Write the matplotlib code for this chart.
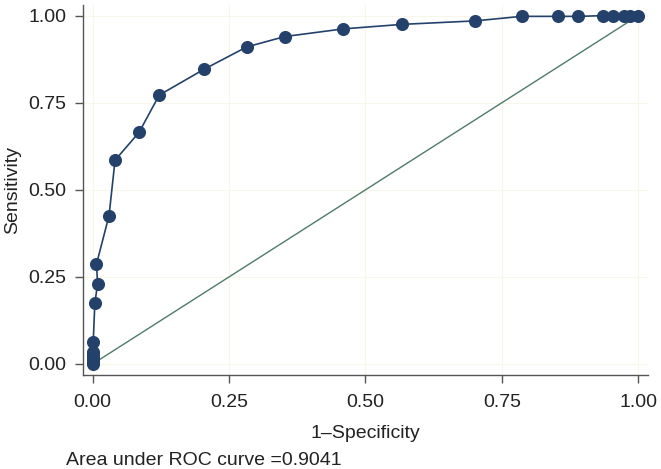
import matplotlib
matplotlib.use("Agg")
import matplotlib.pyplot as plt

# ROC points
fpr = [0.0, 0.0, 0.0, 0.0, 0.0, 0.001, 0.004, 0.009, 0.007, 0.030, 0.041, 0.085,
       0.122, 0.204, 0.282, 0.352, 0.459, 0.567, 0.701, 0.786, 0.852, 0.890,
       0.935, 0.954, 0.973, 0.985, 1.0]
tpr = [0.0, 0.009, 0.018, 0.027, 0.035, 0.063, 0.175, 0.23, 0.287, 0.426, 0.585, 0.665,
       0.772, 0.846, 0.910, 0.940, 0.962, 0.975, 0.985, 0.998, 0.998, 0.998,
       1.0, 1.0, 1.0, 1.0, 1.0]
ticks = [0.0, 0.25, 0.5, 0.75, 1.0]
tick_labels = ["0.00", "0.25", "0.50", "0.75", "1.00"]
auc_text = "Area under ROC curve =0.9041"

plt.rcParams['font.family'] = ['Liberation Sans', 'DejaVu Sans']

fig = plt.figure(figsize=(6.61, 4.69), dpi=100)
ax = fig.add_axes([0.1251, 0.2011, 0.8552, 0.7883])

ax.plot([0, 1], [0, 1], color="#4f7b68", lw=1.0, zorder=2)
ax.plot(fpr, tpr, color="#24416b", lw=1.2, marker="o", markersize=8.4,
        markerfacecolor="#24416b", markeredgecolor="#24416b", zorder=3)

ax.set_xlim(-0.0183, 1.0178)
ax.set_ylim(-0.0307, 1.0307)
ax.set_xticks(ticks)
ax.set_xticklabels(tick_labels)
ax.set_yticks(ticks)
ax.set_yticklabels(tick_labels)
ax.grid(True, color="#f6f6ea", lw=0.8)
ax.set_axisbelow(True)

for s in ["top", "right"]:
    ax.spines[s].set_visible(False)
for s in ["left", "bottom"]:
    ax.spines[s].set_color("#555555")
    ax.spines[s].set_linewidth(1.0)
ax.tick_params(axis="both", length=5.5, width=1.0, color="#555555",
               labelsize=14, labelcolor="#222222")
ax.tick_params(axis="x", pad=8.5)
ax.tick_params(axis="y", pad=6)

ax.set_xlabel("1\u2013Specificity", fontsize=14, color="#222222", va="center")
ax.xaxis.set_label_coords(0.5, -0.16)
ax.set_ylabel("Sensitivity", fontsize=14, color="#222222", va="center")
ax.yaxis.set_label_coords(-0.1233, 0.5)

fig.text(66 / 661, 1 - 460 / 469, auc_text, fontsize=14, color="#222222",
         va="center", ha="left")

fig.savefig("out.png", dpi=100)
